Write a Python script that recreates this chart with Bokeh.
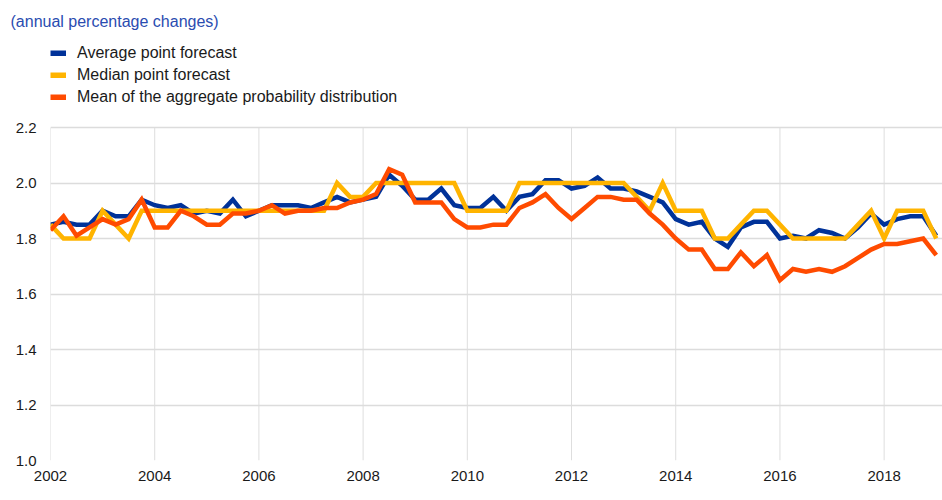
from bokeh.plotting import figure
from bokeh.models import (Legend, LegendItem, FixedTicker, Range1d,
                          NumeralTickFormatter, Title)
from bokeh.embed import file_html
from bokeh.resources import INLINE

# Quarterly survey rounds, 2002Q1 .. 2019Q1
years = list(range(2002, 2020))
quarters = [(y, q) for y in years for q in (1, 2, 3, 4)][:69]
xq = [y + (q - 1) / 4 for (y, q) in quarters]

average_point = [1.85, 1.86, 1.85, 1.85, 1.90, 1.88, 1.88, 1.94, 1.92, 1.91,
                 1.92, 1.89, 1.90, 1.89, 1.94, 1.88, 1.90, 1.92, 1.92, 1.92,
                 1.91, 1.93, 1.95, 1.93, 1.94, 1.95, 2.03, 1.99, 1.94, 1.94,
                 1.98, 1.92, 1.91, 1.91, 1.95, 1.90, 1.95, 1.96, 2.01, 2.01,
                 1.98, 1.99, 2.02, 1.98, 1.98, 1.97, 1.95, 1.93, 1.87, 1.85,
                 1.86, 1.80, 1.77, 1.84, 1.86, 1.86, 1.80, 1.81, 1.80, 1.83,
                 1.82, 1.80, 1.84, 1.89, 1.85, 1.87, 1.88, 1.88, 1.81]

median_point = [1.85, 1.80, 1.80, 1.80, 1.90, 1.85, 1.80, 1.90, 1.90, 1.90,
                1.90, 1.90, 1.90, 1.90, 1.90, 1.90, 1.90, 1.90, 1.90, 1.90,
                1.90, 1.90, 2.00, 1.95, 1.95, 2.00, 2.00, 2.00, 2.00, 2.00,
                2.00, 2.00, 1.90, 1.90, 1.90, 1.90, 2.00, 2.00, 2.00, 2.00,
                2.00, 2.00, 2.00, 2.00, 2.00, 1.95, 1.90, 2.00, 1.90, 1.90,
                1.90, 1.80, 1.80, 1.85, 1.90, 1.90, 1.85, 1.80, 1.80, 1.80,
                1.80, 1.80, 1.85, 1.90, 1.80, 1.90, 1.90, 1.90, 1.80]

mean_aggregate = [1.83, 1.88, 1.81, 1.84, 1.87, 1.85, 1.87, 1.94, 1.84, 1.84,
                  1.90, 1.88, 1.85, 1.85, 1.89, 1.89, 1.90, 1.92, 1.89, 1.90,
                  1.90, 1.91, 1.91, 1.93, 1.94, 1.96, 2.05, 2.03, 1.93, 1.93,
                  1.93, 1.87, 1.84, 1.84, 1.85, 1.85, 1.91, 1.93, 1.96, 1.91,
                  1.87, 1.91, 1.95, 1.95, 1.94, 1.94, 1.89, 1.85, 1.80, 1.76,
                  1.76, 1.69, 1.69, 1.75, 1.70, 1.74, 1.65, 1.69, 1.68, 1.69,
                  1.68, 1.70, 1.73, 1.76, 1.78, 1.78, 1.79, 1.80, 1.74]

series_names = ["Average point forecast", "Median point forecast",
                "Mean of the aggregate probability distribution"]
series_colors = ["#003299", "#FFB400", "#FF4B00"]
y_ticks = [1.0, 1.2, 1.4, 1.6, 1.8, 2.0, 2.2]
x_ticks = years[:-1:2]
subtitle = "(annual percentage changes)"

FONT = "Liberation Sans"
GRID = "#dedede"

# frame spans from y=30px to y=460px; value axis 1.0 -> 2.2 occupies the lower 333px
TOP_PX, BOTTOM_PX, AXIS_PX = 30, 460, 333
y_end = y_ticks[0] + (y_ticks[-1] - y_ticks[0]) * (BOTTOM_PX - TOP_PX) / AXIS_PX

p = figure(width=942, height=492, output_backend="svg", toolbar_location=None,
           x_range=Range1d(2002, 2019.12), y_range=Range1d(y_ticks[0], y_end),
           min_border_left=50, min_border_right=0, min_border_top=TOP_PX,
           min_border_bottom=32, title=None)
p.outline_line_color = None
p.background_fill_color = "white"

# vertical grid lines limited to the value axis span
p.segment(x0=x_ticks, y0=[y_ticks[0]] * len(x_ticks), x1=x_ticks,
          y1=[y_ticks[-1]] * len(x_ticks), line_color=GRID, line_width=1,
          level="underlay")

NAN = float("nan")
legend_items = []
for name, vals, col in zip(series_names,
                           [average_point, median_point, mean_aggregate],
                           series_colors):
    p.line(xq, vals, line_color=col, line_width=4.5, line_join="miter")
    # invisible (NaN) renderer used only for a thicker legend swatch
    swatch = p.line([NAN], [NAN], line_color=col, line_width=6)
    legend_items.append(LegendItem(label=name, renderers=[swatch]))

p.xaxis.ticker = FixedTicker(ticks=x_ticks)
p.yaxis.ticker = FixedTicker(ticks=y_ticks)
p.yaxis.formatter = NumeralTickFormatter(format="0.0")
for ax in (p.xaxis[0], p.yaxis[0]):
    ax.axis_line_color = None
    ax.major_tick_line_color = None
    ax.minor_tick_line_color = None
    ax.major_tick_out = 0
    ax.major_tick_in = 0
    ax.major_label_text_font = FONT
    ax.major_label_text_font_size = "15px"
    ax.major_label_text_color = "#1a1a1a"
p.yaxis.major_label_standoff = 14
p.xaxis.major_label_standoff = 10

p.xgrid.grid_line_color = None
p.ygrid.ticker = FixedTicker(ticks=y_ticks)
p.ygrid.grid_line_color = "#dcdcdc"
p.ygrid.grid_line_width = 1.5

legend = Legend(items=legend_items,
                location=(0, 353), orientation="vertical",
                glyph_width=16, glyph_height=6, label_standoff=11,
                label_height=20, spacing=2, padding=0, margin=0,
                label_text_font=FONT, label_text_font_size="16px",
                label_text_color="#1a1a1a",
                border_line_color=None, background_fill_alpha=0)
p.add_layout(legend, "center")

p.add_layout(Title(text=subtitle, align="left", offset=-40, standoff=1,
                   text_font=FONT, text_font_size="16px", text_font_style="normal",
                   text_color="#2a4cb0"), "above")

open("out.html", "w").write(file_html(p, INLINE))
